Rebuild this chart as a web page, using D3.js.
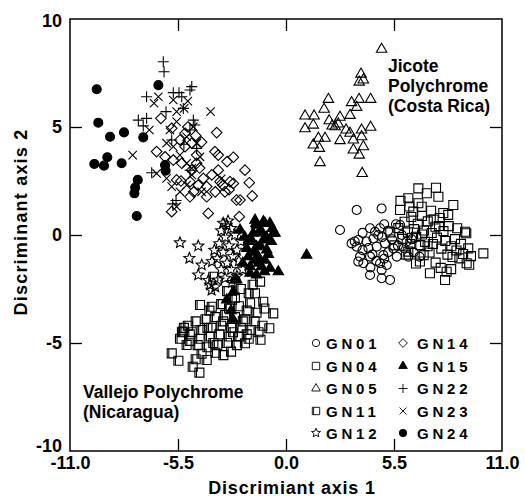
<!DOCTYPE html>
<html><head><meta charset="utf-8">
<script src="https://cdn.jsdelivr.net/npm/d3@7"></script>
<style>
body{margin:0;background:#fff;}
svg{display:block;font-family:"Liberation Sans",Arial,sans-serif;}
</style></head>
<body><svg id="c" width="525" height="500"></svg>
<script>
const xTicks = [-11, -5.5, 0, 5.5, 11];
const xTickLabels = ["-11.0", "-5.5", "0.0", "5.5", "11.0"];
const yTicks = [10, 5, 0, -5, -10];
const yTickLabels = ["10", "5", "0", "-5", "-10"];

const GN01 = [[3.6,1.16],[4.87,1.23],[2.75,0.23],[3.68,-0.23],[3.6,-0.54],[4.28,0.31],[4.53,0.15],[4.79,0.31],[3.77,-1.0],[3.94,-1.31],[4.28,-1.0],[4.79,-1.31],[5.13,-1.39],[4.87,-1.62],[4.28,-1.85],[4.87,-2.0],[5.3,-2.08],[4.62,-0.54],[5.04,-0.39],[5.47,-0.62],[5.81,0.46],[5.9,0.0],[6.23,-1.0],[5.64,-1.0],[4.96,-0.93],[6.14,-0.31],[4.45,-0.16],[4.7,0.0],[3.34,-0.39],[3.68,-1.23],[4.2,-0.6],[4.4,-0.9],[3.5,-0.3],[3.9,0.1],[4.1,-0.3],[5.2,0.2],[5.4,-0.2],[5.6,0.5],[6.0,-0.6],[6.5,-0.8],[6.8,-1.0],[5.2,-0.8],[4.6,-1.2],[5.0,-1.1],[4.9,-0.1],[5.7,-0.5],[3.9,-0.7],[6.4,-0.2],[5.0,0.5],[4.3,-1.5]];

const GN04 = [[6.74,2.16],[7.64,2.19],[7.17,1.93],[7.76,1.77],[6.23,1.7],[6.74,1.47],[5.81,1.16],[6.48,1.08],[8.52,1.39],[8.26,0.93],[9.12,0.15],[10.05,-0.85],[7.33,-1.77],[8.18,-1.7],[8.1,-2.08],[9.2,-1.31],[6.82,-1.23],[6.23,-0.77],[5.72,0.32],[5.93,-0.18],[6.04,0.61],[6.21,0.12],[6.33,-0.42],[6.38,0.83],[6.52,0.27],[6.63,-0.08],[6.71,0.52],[6.84,-0.47],[6.92,0.88],[7.03,0.21],[7.08,-0.32],[7.22,0.63],[7.31,-0.81],[7.42,0.09],[7.48,-0.42],[7.61,0.38],[7.69,-0.12],[7.83,0.79],[7.91,-0.63],[8.02,0.18],[8.11,-0.28],[8.22,-0.91],[8.29,0.41],[8.42,-0.52],[8.48,-1.02],[8.61,-0.19],[8.68,-0.72],[8.83,-1.08],[8.91,-0.41],[9.02,-0.88],[9.28,-0.62],[9.33,-1.38],[9.18,0.08],[6.12,-0.91],[6.62,-1.32],[7.01,-0.93],[7.62,-1.28],[7.88,-1.52],[8.41,-1.58],[6.91,1.31],[7.39,1.12],[6.28,1.32],[5.52,-0.48],[5.31,0.12],[5.83,1.58],[8.01,1.02],[8.72,0.31],[9.42,-0.98],[6.42,-0.13],[7.21,-0.52],[7.79,0.42],[6.93,0.02],[7.52,0.72]];

const GN05 = [[4.87,8.6],[3.82,7.45],[3.94,7.18],[3.73,7.08],[2.16,6.28],[3.34,6.13],[3.72,6.28],[4.31,6.28],[3.6,5.91],[1.94,5.82],[0.97,5.51],[1.43,5.51],[2.2,5.29],[2.75,5.45],[3.26,5.54],[1.39,5.09],[0.97,4.92],[2.5,5.01],[2.66,5.14],[3.06,4.86],[3.26,4.71],[3.85,4.86],[4.31,4.99],[1.65,4.48],[1.99,4.48],[1.39,4.17],[1.7,4.01],[2.75,4.37],[3.43,4.4],[3.85,4.55],[3.43,3.94],[3.94,4.09],[3.73,3.7],[1.73,3.35],[3.88,2.85],[2.35,5.05]];

const GN11 = [[-1.32,-2.16],[-1.58,-2.7],[-1.16,-3.09],[-0.65,-3.63],[-0.85,-4.32],[-1.83,-3.16],[-3.7,-1.93],[-2.3,-2.5],[-2.6,-2.9],[-1.9,-2.7],[-4.38,-3.24],[-3.78,-3.32],[-3.3,-3.2],[-2.9,-3.4],[-2.4,-3.3],[-2.0,-3.5],[-1.5,-3.6],[-1.2,-4.2],[-1.6,-4.0],[-2.1,-3.9],[-2.6,-3.8],[-3.1,-3.7],[-3.6,-3.8],[-4.1,-3.9],[-4.6,-4.0],[-5.0,-4.2],[-5.3,-4.5],[-4.8,-4.5],[-4.3,-4.4],[-3.8,-4.3],[-3.3,-4.2],[-2.8,-4.3],[-2.3,-4.3],[-1.8,-4.4],[-1.4,-4.5],[-1.9,-4.8],[-2.4,-4.7],[-2.9,-4.7],[-3.4,-4.6],[-3.9,-4.7],[-4.4,-4.8],[-4.9,-4.9],[-5.26,-4.47],[-5.06,-5.09],[-4.5,-5.1],[-4.0,-5.2],[-3.5,-5.1],[-3.0,-5.0],[-2.5,-5.1],[-2.09,-5.01],[-3.19,-5.56],[-4.04,-5.79],[-2.8,-5.4],[-3.6,-5.45],[-4.3,-5.5],[-4.6,-5.75],[-5.82,-5.48],[-5.48,-5.82],[-4.75,-6.1],[-4.41,-6.37],[-2.75,-3.0],[-3.0,-2.6],[-1.7,-2.3],[-2.2,-4.0],[-3.2,-4.0],[-4.0,-4.3],[-2.7,-4.5],[-1.1,-3.4],[-4.9,-4.6],[-5.4,-4.8],[-3.7,-5.0],[-2.0,-4.6],[-1.3,-4.85],[-5.2,-4.3],[-3.9,-3.5]];

const GN12 = [[-5.4,-0.36],[-4.47,-0.51],[-4.92,-1.08],[-4.29,-1.39],[-3.77,-1.23],[-4.47,-1.85],[-3.87,-2.31],[-3.79,-2.55],[-3.45,-2.08],[-3.02,0.46],[-3.3,0.2],[-2.8,0.3],[-3.1,-0.1],[-2.6,0.0],[-3.4,-0.4],[-2.9,-0.5],[-3.2,-0.8],[-2.5,-0.7],[-2.7,-1.0],[-3.0,-1.3],[-2.4,-1.2],[-3.3,-1.6],[-2.8,-1.6],[-2.5,-1.9],[-3.1,-2.0],[-3.6,-2.4],[-3.5,-1.1],[-2.3,-0.3],[-2.95,0.65],[-3.2,0.55],[-2.75,-2.2],[-3.65,-0.7],[-2.2,-1.6],[-3.95,-2.1]];

const GN14 = [[-3.53,4.74],[-6.59,3.86],[-6.37,5.4],[-5.82,4.94],[-5.4,4.4],[-5.14,4.09],[-4.8,4.25],[-6.16,3.62],[-5.74,3.47],[-5.31,3.32],[-4.55,3.32],[-4.4,3.1],[-3.62,3.86],[-3.45,3.7],[-2.68,3.6],[-2.09,3.0],[-1.87,2.42],[-1.72,1.81],[-2.52,1.62],[-2.85,2.47],[-3.11,2.0],[-3.45,3.0],[-3.78,2.78],[-4.04,2.24],[-4.04,1.77],[-4.47,2.31],[-4.89,1.77],[-4.89,2.47],[-5.57,2.55],[-5.82,1.08],[-3.96,1.0],[-2.38,0.85],[-4.8,3.0],[-4.55,3.7],[-3.36,2.47],[-2.68,2.39],[-2.34,1.62],[-4.21,2.62],[-5.14,4.71],[-5.0,5.0],[-4.6,4.6],[-5.35,2.5],[-3.2,2.3],[-2.9,2.1],[-3.6,2.0],[-4.3,4.3],[-3.0,3.4],[-4.7,2.0]];

const GN15 = [[-1.53,0.54],[-1.07,0.54],[-1.32,0.23],[-0.65,0.08],[-0.7,0.3],[-1.67,0.08],[-1.75,-0.23],[-1.16,-0.23],[-1.5,-0.54],[-2.0,-0.62],[-0.98,-0.69],[-1.92,-1.0],[-1.41,-1.0],[-1.07,-1.16],[-1.83,-1.47],[-1.24,-1.47],[-0.81,-1.54],[-0.39,-1.7],[-1.83,-1.77],[-1.5,-1.85],[-2.6,-2.08],[-2.68,-2.62],[-3.02,-3.0],[-2.34,0.23],[-1.58,0.69],[-1.15,0.62],[-0.82,0.54],[-1.5,0.46],[-0.56,0.08],[-1.58,-1.16],[-2.51,-2.08],[1.05,-0.93],[-1.3,-0.5],[-1.0,-0.1],[-1.9,-0.3],[-1.2,0.1],[-0.9,-0.9],[-1.6,-0.8],[-2.2,-1.3],[-1.4,-1.3],[-0.75,-0.3],[-2.1,-0.1],[-1.1,-1.7],[-2.8,-3.5],[-2.7,-3.9]];

const GN22 = [[-6.25,8.02],[-6.21,7.56],[-7.1,6.4],[-5.74,6.59],[-4.8,6.87],[-4.89,6.71],[-5.31,6.4],[-5.45,6.59],[-7.52,5.32],[-7.1,5.4],[-7.27,5.05],[-6.11,5.71],[-5.23,5.86],[-4.89,4.86],[-4.72,5.32],[-4.64,5.09],[-5.82,4.4],[-4.55,4.01],[-6.84,2.88],[-5.77,1.44],[-5.6,1.6],[-4.89,3.0],[-5.2,4.2]];

const GN23 = [[-6.5,6.4],[-6.72,6.1],[-5.74,6.25],[-5.57,5.71],[-3.84,5.71],[-5.19,5.86],[-5.0,6.2],[-7.81,3.7],[-6.96,4.86],[-5.91,4.86],[-5.57,5.25],[-6.08,4.25],[-5.74,4.09],[-5.06,4.55],[-4.72,5.01],[-4.55,4.25],[-5.06,3.32],[-4.8,3.09],[-6.08,2.62],[-5.82,2.24],[-5.4,2.0],[-5.06,2.31],[-4.8,2.78],[-5.57,1.31],[-4.38,3.62],[-6.59,2.85],[-5.4,3.7],[-4.3,2.0],[-3.3,2.6]];

const GN24 = [[-9.64,6.75],[-9.56,5.2],[-8.96,4.55],[-8.25,4.75],[-9.76,3.29],[-9.27,3.21],[-9.1,3.6],[-8.37,3.32],[-7.27,4.52],[-6.5,6.94],[-6.16,3.24],[-6.13,2.98],[-7.55,2.55],[-7.68,2.2],[-7.72,1.93],[-7.6,0.88]];

const legendCol1 = ["GN01","GN04","GN05","GN11","GN12"];
const legendCol2 = ["GN14","GN15","GN22","GN23","GN24"];

const sym = {
  circle: r => `M${r},0A${r},${r} 0 1,1 ${-r},0A${r},${r} 0 1,1 ${r},0Z`,
  square: s => `M${-s},${-s}H${s}V${s}H${-s}Z`,
  square2: s => `M${-s},${-s}H${s}V${s}H${-s}Z M${-s+1.6},${-s}V${s}`,
  triangle: s => { const h = s*Math.sqrt(3)/2; return `M0,${-h*2/3}L${s/2},${h/3}L${-s/2},${h/3}Z`; },
  diamond: s => `M0,${-s}L${s},0L0,${s}L${-s},0Z`,
  plus: s => `M${-s},0H${s}M0,${-s}V${s}`,
  times: s => `M${-s},${-s}L${s},${s}M${-s},${s}L${s},${-s}`,
  star: R => { const r = R*0.45; let p = ""; for (let i=0;i<10;i++){ const a = -Math.PI/2 + i*Math.PI/5; const rr = i%2?r:R; p += (i?"L":"M") + (rr*Math.cos(a)).toFixed(2) + "," + (rr*Math.sin(a)).toFixed(2);} return p+"Z"; }
};

const series = {
  GN01: {data: GN01, path: sym.circle(4.5), fill: "none"},
  GN04: {data: GN04, path: sym.square(4.5), fill: "none"},
  GN05: {data: GN05, path: sym.triangle(10.5), fill: "none"},
  GN11: {data: GN11, path: sym.square2(4.5), fill: "none"},
  GN12: {data: GN12, path: sym.star(5.8), fill: "none"},
  GN14: {data: GN14, path: sym.diamond(5.3), fill: "none"},
  GN15: {data: GN15, path: sym.triangle(10.5), fill: "#000"},
  GN22: {data: GN22, path: sym.plus(5.5), fill: "none"},
  GN23: {data: GN23, path: sym.times(4.2), fill: "none"},
  GN24: {data: GN24, path: sym.circle(4.5), fill: "#000"}
};
const drawOrder = ["GN04","GN01","GN05","GN11","GN14","GN22","GN23","GN12","GN24","GN15"];

const svg = d3.select("#c");
const L = 70, R = 502, T = 19, B = 451;
const x = d3.scaleLinear().domain([-11, 11]).range([L, R]);
const y = d3.scaleLinear().domain([-10, 10]).range([B, T]);

for (const k of drawOrder) {
  const s = series[k];
  svg.append("g").selectAll("path").data(s.data).join("path")
    .attr("d", s.path)
    .attr("transform", d => `translate(${x(d[0])},${y(d[1])})`)
    .attr("fill", s.fill).attr("stroke", "#000").attr("stroke-width", 1.1);
}

svg.append("rect").attr("x", L).attr("y", T).attr("width", R-L).attr("height", B-T)
  .attr("fill", "none").attr("stroke", "#000").attr("stroke-width", 1.5);

const tickFont = g => g.selectAll("text").attr("font-size", 18).attr("font-weight", "bold").attr("fill", "#000");
const noDomain = g => g.select(".domain").remove();

svg.append("g").attr("transform", `translate(0,${B})`)
  .call(d3.axisBottom(x).tickValues(xTicks).tickSize(-12).tickPadding(5).tickFormat((d,i) => xTickLabels[i]))
  .call(noDomain).call(tickFont).call(g => g.selectAll("line").filter((d,i)=>i===0||i===4).remove());
svg.append("g").attr("transform", `translate(0,${T})`)
  .call(d3.axisTop(x).tickValues(xTicks.slice(1,4)).tickSize(-12).tickFormat(""))
  .call(noDomain);
svg.append("g").attr("transform", `translate(${L},0)`)
  .call(d3.axisLeft(y).tickValues(yTicks).tickSize(-12).tickPadding(8).tickFormat((d,i) => yTickLabels[i]))
  .call(noDomain).call(tickFont)
  .call(g => g.selectAll("line").filter((d,i)=>i===0||i===4).remove())
  .call(g => g.selectAll("text").filter(d => d === -10).attr("y", -5))
  .call(g => g.selectAll("text").filter(d => d === 10).attr("y", 2));
svg.append("g").attr("transform", `translate(${R},0)`)
  .call(d3.axisRight(y).tickValues(yTicks.slice(1,4)).tickSize(-12).tickFormat(""))
  .call(noDomain);
svg.selectAll(".tick line").attr("stroke", "#000").attr("stroke-width", 1.3);

svg.append("text").attr("x", (L+R)/2 + 6).attr("y", 494).attr("text-anchor", "middle")
  .attr("font-size", 18).attr("font-weight", "bold").attr("letter-spacing", 0.8).text("Discrimiant axis 1");
svg.append("text").attr("transform", `translate(27,${222}) rotate(-90)`).attr("text-anchor", "middle")
  .attr("font-size", 18).attr("font-weight", "bold").attr("letter-spacing", 1.2).text("Discriminant axis 2");

const ann = svg.append("g").attr("font-size", 17.5).attr("font-weight", "bold");
[["Jicote",72],["Polychrome",92],["(Costa Rica)",112]].forEach(([t,yy]) =>
  ann.append("text").attr("x", 388).attr("y", yy).text(t));
[["Vallejo Polychrome",398],["(Nicaragua)",418]].forEach(([t,yy]) =>
  ann.append("text").attr("x", 83).attr("y", yy).text(t));

const rowY = [343, 366, 388.5, 411, 433];
function legendCol(names, sx, tx) {
  names.forEach((n, i) => {
    const s = series[n];
    const sc = 0.82;
    svg.append("path").attr("d", s.path).attr("transform", `translate(${sx},${rowY[i]}) scale(${sc})`)
      .attr("fill", s.fill).attr("stroke", "#000").attr("stroke-width", 1.1);
    svg.append("text").attr("x", tx).attr("y", rowY[i] + 5.5).attr("font-size", 15).attr("font-weight", "bold")
      .attr("letter-spacing", 3.8).text(n);
  });
}
legendCol(legendCol1, 316, 326);
legendCol(legendCol2, 403, 417);
</script></body></html>
